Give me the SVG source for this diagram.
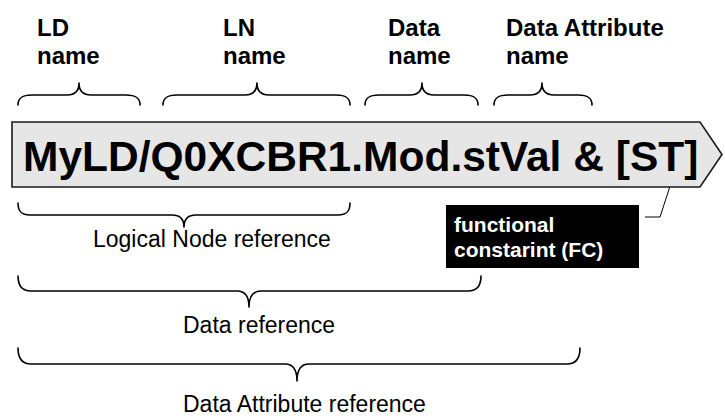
<svg xmlns="http://www.w3.org/2000/svg" width="725" height="419" viewBox="0 0 725 419">
<style>
.lb{font-family:"Liberation Sans",Arial,sans-serif;font-weight:bold;font-size:24px;fill:#000}
.rf{font-family:"Liberation Sans",Arial,sans-serif;font-size:23px;fill:#000}
.br{fill:none;stroke:#000;stroke-width:1.6;stroke-linecap:round;stroke-linejoin:round}
</style>
<rect width="725" height="419" fill="#fff"/>
<g id="labels-top">
<text class="lb" x="37" y="36">LD</text><text class="lb" x="37" y="64">name</text>
<text class="lb" x="223" y="36">LN</text><text class="lb" x="223" y="64">name</text>
<text class="lb" x="388" y="36">Data</text><text class="lb" x="388" y="64">name</text>
<text class="lb" x="506" y="36">Data Attribute</text><text class="lb" x="506" y="64">name</text>
</g>
<g id="connectors">
<path class="br" d="M18,105 C18,98 22,95 32,95 L67,95 C75,95 79,91 79,83 C79,91 83,95 91,95 L126,95 C136,95 140,98 140,105"/>
<path class="br" d="M163,105 C163,98 167,95 177,95 L245,95 C253,95 257,91 257,83 C257,91 261,95 269,95 L336,95 C346,95 350,98 350,105"/>
<path class="br" d="M365,105 C365,98 369,95 379,95 L410,95 C418,95 422,91 422,83 C422,91 426,95 434,95 L464,95 C474,95 478,98 478,105"/>
<path class="br" d="M494,105 C494,98 498,95 508,95 L530,95 C538,95 542,91 542,83 C542,91 546,95 554,95 L578,95 C588,95 592,98 592,105"/>
<path class="br" d="M18,203 C18,211 21,215 30,215 L172,215 C180,215 184,219 184,227 C184,219 188,215 196,215 L338,215 C347,215 350,211 350,203"/>
<path class="br" d="M18,276 C18,285 21,291 31,291 L237,291 C245,291 249,297 249,307 C249,297 253,291 261,291 L468,291 C478,291 481,285 481,276"/>
<path class="br" d="M18,348 C18,357 21,364 31,364 L285,364 C293,364 297,370 297,381 C297,370 301,364 309,364 L567,364 C577,364 580,357 580,348"/>
<polyline points="645,217 660,217 672,180" fill="none" stroke="#000" stroke-width="1"/>
</g>
<g id="banner">
<polygon points="12,122 700,122 722,154.5 700,187 12,187" fill="#e6e6e6" stroke="#1a1a1a" stroke-width="1.6"/>
<text x="23" y="171" font-family="'Liberation Sans',Arial,sans-serif" font-weight="bold" font-size="42.5" fill="#000">MyLD/Q0XCBR1.Mod.stVal &amp; [ST]</text>
</g>
<g id="fc">
<rect x="446" y="205" width="193" height="63" fill="#000"/>
<text x="454" y="232" font-family="'Liberation Sans',Arial,sans-serif" font-weight="bold" font-size="21" fill="#fff">functional</text>
<text x="454" y="257" font-family="'Liberation Sans',Arial,sans-serif" font-weight="bold" font-size="21" fill="#fff">constarint (FC)</text>
</g>
<g id="labels-bottom">
<text class="rf" x="93" y="247">Logical Node reference</text>
<text class="rf" x="183" y="333">Data reference</text>
<text class="rf" x="183" y="412">Data Attribute reference</text>
</g>
</svg>
